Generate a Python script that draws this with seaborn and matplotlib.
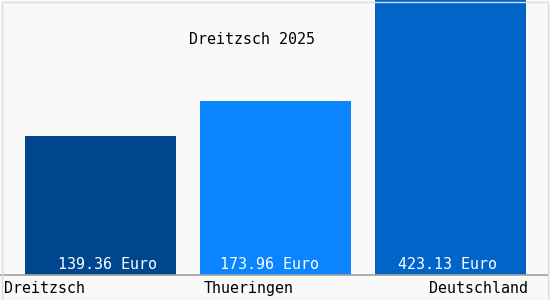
import matplotlib
matplotlib.use("Agg")
import matplotlib.pyplot as plt
import matplotlib.transforms as mtransforms
from matplotlib.patches import Rectangle
import seaborn as sns
import pandas as pd

categories = ["Dreitzsch", "Thueringen", "Deutschland"]
values = [139.36, 173.96, 423.13]
value_labels = ["139.36 Euro", "173.96 Euro", "423.13 Euro"]
bar_colors = ["#00468e", "#0a84ff", "#0064c8"]
title = "Dreitzsch 2025"

sns.set_theme(style="white")
plt.rcParams["font.family"] = ["DejaVu Sans Mono", "DejaVu Sans"]

W, H = 550, 300
FS = 10.8
fig = plt.figure(figsize=(W / 100, H / 100), dpi=100, facecolor="#f9f9f9")
ax = fig.add_axes([0, 25 / H, 1, 275 / H])
ax.set_facecolor("#f9f9f9")

df = pd.DataFrame({"cat": categories, "val": values})
sns.barplot(data=df, x="cat", y="val", hue="cat", palette=bar_colors,
            width=151 / 175, legend=False, ax=ax, saturation=1, linewidth=0)

ax.set_xlim(-100.5 / 175, 2 + 99.5 / 175)
ax.set_ylim(0, 275)
for s in ax.spines.values():
    s.set_visible(False)
ax.set_xticks([])
ax.set_yticks([])
ax.set_xlabel("")
ax.set_ylabel("")

# value labels inside bars
label_shift = [0.04, -0.035, -0.015]
for i, lab in enumerate(value_labels):
    ax.text(i + label_shift[i], 3, lab, ha="center", va="bottom", color="white", fontsize=FS)

# baseline
ax.axhline(0, color="#a0a0a0", lw=1.2, xmax=548 / 550, clip_on=False)

# category labels below axes
cat_pos = [(4, "left"), (249, "center"), (528, "right")]
for (x, ha), lab in zip(cat_pos, categories):
    fig.text(x / W, 1 - 293 / H, lab, ha=ha, va="baseline", fontsize=FS, color="black")

fig.text(252 / W, 1 - 39 / H, title, ha="center", va="center", fontsize=FS, color="black")

# light frame
fig.patches.append(Rectangle((1.5 / W, 0.5 / H), 546 / W, 298 / H, transform=fig.transFigure,
                             fill=False, edgecolor="#dddddd", lw=1))

fig.savefig("out.png", dpi=100, facecolor=fig.get_facecolor())
